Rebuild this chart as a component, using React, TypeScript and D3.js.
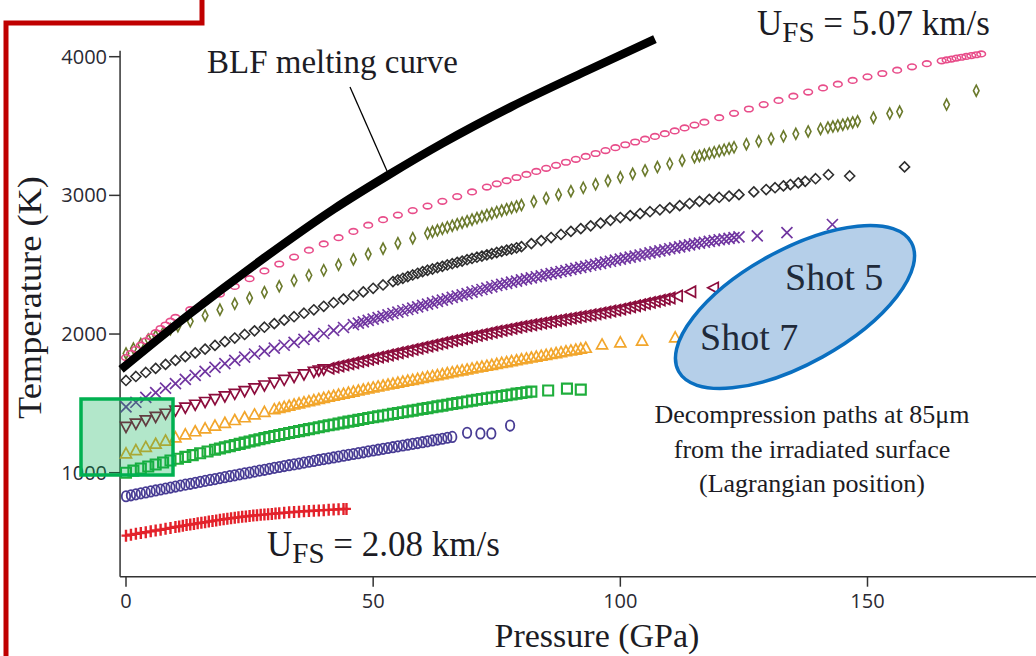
import React from "react";
import * as d3 from "d3";

// ---- data (Pressure GPa, Temperature K) ----
const meltingCurve: [number, number][] = [
  [-1, 1745], [13, 2148], [28, 2550], [42, 2900], [53, 3145], [64, 3375], [78, 3640], [93, 3895], [107, 4127],
];

const pinkSeries: [number, number][] = [
  [0,1830],[1,1860],[2,1890],[3,1920],[4,1950],[5,1980],[6,2010],[7,2040],[8,2065],[9,2093],[10,2120],
  [13,2176],[16,2232],[19,2288],[22,2343],[25,2399],[28,2455],[31,2505],[34,2555],[37,2605],[40,2650],[43,2695],[46,2740],[49,2785],[52,2825],[55,2858],[58,2890],[61,2923],[64,2957],[67,2991],[70,3025],[73,3060],
  [75,3083],[77,3106],[79,3129],[81,3151],[83,3173],[85,3195],[87,3217],[89,3239],[91,3260],[93,3281],[95,3302],[97,3323],[99,3344],[101,3365],[103,3385],[105,3405],[107,3425],[109,3445],[111,3465],[113,3486],[115,3507],[117,3528],
  [120,3560],[123,3592],[126,3623],[129,3655],[132,3685],[135,3715],[138,3745],[141,3775],[144,3802],[147,3829],[150,3855],[153,3879],[156,3903],[159,3927],[162,3950],[165,3970],
  [166,3977],[167,3983],[168,3990],[169,3996],[170,4002],[171,4008],[172,4014],[173,4020],
];

const oliveSeries: [number, number][] = [
  [0,1860],[1.5,1895],[3,1928],[4.5,1960],[6,1986],[7.5,2010],[9,2035],[10.5,2057],
  [13,2092],[16,2134],[19,2176],[22,2218],[25,2260],[28,2302],[31,2344],[34,2386],[37,2424],[40,2460],[43,2499],[46,2538],[49,2577],[52,2616],[55,2655],[58,2691],[61,2726],
  [62,2737],[63,2748],[64,2759],[65,2770],[66,2781],[67,2792],[68,2803],[69,2814],[70,2825],[71,2836],[72,2847],[73,2858],[74,2869],[75,2880],[76,2890],[77,2900],[78,2910],[79,2920],[80,2930],
  [82.5,2955],[85,2980],[87.5,3005],[90,3030],[92.5,3055],[95,3080],[97.5,3105],[100,3130],[102.5,3155],[105,3180],[107.5,3204],[110,3228],[112.5,3252],[115,3275],
  [116,3284],[117,3293],[118,3302],[119,3311],[120,3320],[121,3329],[122,3338],[123,3347],
  [125.5,3369],[128,3390],[130.5,3409],[133,3426],[135.5,3444],[138,3461],[140.5,3479],
  [142,3489],[143,3496],[144,3503],[145,3510],[146,3518],[147,3526],[148,3534],
  [151.2,3560],[154.5,3590],[156.5,3604],[166,3655],[172,3755],
];

const blackSeries: [number, number][] = [
  [0,1665],[2,1694],[4,1723],[6,1752],[8,1781],[10,1810],[12,1837],[14,1864],[16,1891],[18,1918],[20,1945],[22,1971],[24,1997],[26,2023],[28,2049],[30,2075],[32,2100],[34,2125],[36,2150],[38,2175],[40,2200],[42,2226],[44,2252],[46,2278],[48,2304],[50,2330],[52,2354],[54,2378],
  [55,2390],[56,2402],[57,2414],[58,2426],[59,2438],[60,2450],[61,2460],[62,2469],[63,2479],[64,2488],[65,2498],[66,2507],[67,2517],[68,2526],[69,2536],[70,2545],[71,2554],[72,2562],[73,2571],[74,2579],[75,2588],[76,2596],[77,2605],[78,2613],[79,2622],[80,2630],
  [82,2652],[84,2674],[86,2696],[88,2718],[90,2740],[92,2760],[94,2780],[96,2800],[98,2820],[100,2840],[102,2854],[104,2868],[106,2882],[108,2896],[110,2910],[112,2926],[114,2941],[116,2957],[118,2971],[120,2985],[122,2995],[124,3005],
  [127,3025],[129.5,3042],[131.3,3055],[133,3068],[134.4,3078],[136,3090],[137.4,3101],[139.5,3120],[142.1,3149],[146.4,3140],[157.5,3205],
];

const purpleSeries: [number, number][] = [
  [0,1474],[2,1508],[4,1543],[6,1577],[8,1610],[10,1643],[12,1673],[14,1702],[16,1731],[18,1759],[20,1787],[22,1810],[24,1833],[26,1856],[28,1877],[30,1898],[32,1919],[34,1940],[36,1961],[38,1983],[40,2004],[42,2026],[44,2047],[46,2068],
  [47,2078],[48,2088],[49,2098],[50,2108],[51,2118],[52,2128],[53,2138],[54,2148],[55,2158],[56,2168],[57,2177],[58,2187],[59,2196],[60,2206],[61,2216],[62,2225],[63,2235],[64,2244],[65,2254],[66,2264],[67,2273],[68,2283],[69,2292],[70,2302],[71,2312],[72,2321],[73,2331],[74,2340],[75,2350],[76,2358],[77,2366],[78,2374],[79,2382],[80,2390],[81,2398],[82,2405],[83,2413],[84,2420],[85,2428],[86,2436],[87,2443],[88,2451],[89,2458],[90,2466],[91,2473],[92,2481],[93,2488],[94,2496],[95,2503],[96,2510],[97,2518],[98,2525],[99,2533],[100,2540],[101,2547],[102,2555],[103,2562],[104,2570],[105,2577],[106,2585],[107,2592],[108,2600],[109,2607],[110,2615],[111,2622],[112,2629],[113,2636],[114,2643],[115,2650],[116,2656],[117,2662],[118,2668],[119,2674],[120,2680],[121,2685],[122,2690],[123,2695],[124,2700],
  [127.7,2708],[133.7,2731],[142.9,2790],
];

const maroonSeries: [number, number][] = [
  [0,1330],[2,1354],[4,1378],[6,1402],[8,1425],[10,1448],[12,1469],[14,1490],[16,1510],[18,1530],[20,1550],[22,1569],[24,1588],[26,1608],[28,1629],[30,1650],[32,1670],[34,1690],[36,1709],[38,1727],
  [39,1737],[40,1745],[41,1753],[42,1761],[43,1769],[44,1777],[45,1785],[46,1793],[47,1801],[48,1809],[49,1817],[50,1825],[51,1833],[52,1841],[53,1849],[54,1857],[55,1865],[56,1873],[57,1881],[58,1889],[59,1897],[60,1905],[61,1913],[62,1921],[63,1929],[64,1937],[65,1945],[66,1953],[67,1960],[68,1968],[69,1975],[70,1983],[71,1990],[72,1998],[73,2005],[74,2013],[75,2020],[76,2027],[77,2034],[78,2041],[79,2048],[80,2055],[81,2061],[82,2067],[83,2073],[84,2079],[85,2085],[86,2091],[87,2097],[88,2103],[89,2109],[90,2115],[91,2121],[92,2127],[93,2133],[94,2139],[95,2145],[96,2152],[97,2159],[98,2166],[99,2173],[100,2180],[101,2188],[102,2196],[103,2204],[104,2212],[105,2220],[106,2228],[107,2236],[108,2244],[109,2252],[110,2260],
  [111.5,2275],[114.2,2305],[118.8,2333],[124.3,2383],
];

const orangeSeries: [number, number][] = [
  [0,1140],[2,1163],[4,1186],[6,1209],[8,1232],[10,1255],[12,1277],[14,1299],[16,1320],[18,1340],[20,1360],[22,1380],[24,1400],[26,1420],[28,1439],[30,1458],
  [31,1467],[32,1475],[33,1483],[34,1492],[35,1500],[36,1508],[37,1516],[38,1524],[39,1532],[40,1540],[41,1548],[42,1555],[43,1563],[44,1570],[45,1578],[46,1585],[47,1593],[48,1600],[49,1608],[50,1615],[51,1622],[52,1629],[53,1636],[54,1643],[55,1650],[56,1657],[57,1664],[58,1670],[59,1677],[60,1684],[61,1691],[62,1698],[63,1704],[64,1711],[65,1718],[66,1725],[67,1732],[68,1738],[69,1745],[70,1752],[71,1759],[72,1765],[73,1772],[74,1778],[75,1785],[76,1792],[77,1798],[78,1805],[79,1811],[80,1818],[81,1824],[82,1831],[83,1837],[84,1844],[85,1850],[86,1856],[87,1863],[88,1869],[89,1876],[90,1882],[91,1888],[92,1895],[93,1901],
  [96.3,1925],[100,1940],[104.4,1953],[111.1,1976],
];

const greenSeries: [number, number][] = [
  [0,1000],[1.5,1015],[3,1030],[4.5,1045],[6,1059],[7.5,1074],[9,1088],[10.5,1101],[12,1114],[13.5,1127],[15,1140],[16.5,1153],
  [18,1166],[19,1174],[20,1183],[21,1191],[22,1200],[23,1208],[24,1217],[25,1225],[26,1233],[27,1241],[28,1249],[29,1257],[30,1265],[31,1272],[32,1279],[33,1286],[34,1293],[35,1300],[36,1307],[37,1314],[38,1321],[39,1328],[40,1335],[41,1342],[42,1348],[43,1355],[44,1361],[45,1368],[46,1374],[47,1381],[48,1387],[49,1394],[50,1400],[51,1406],[52,1412],[53,1418],[54,1424],[55,1430],[56,1436],[57,1442],[58,1448],[59,1454],[60,1460],[61,1466],[62,1472],[63,1478],[64,1484],[65,1490],[66,1496],[67,1502],[68,1508],[69,1514],[70,1520],[71,1526],[72,1531],[73,1537],[74,1542],[75,1548],[76,1553],[77,1559],[78,1564],[79,1570],[80,1575],[81,1580],[82,1585],
  [85.4,1593],[89.2,1606],[92,1599],
];

const indigoSeries: [number, number][] = [
  [0,830],[1,837],[2,844],[3,851],[4,858],[5,865],[6,872],[7,879],[8,886],[9,893],[10,900],[11,907],[12,914],[13,920],[14,927],[15,934],[16,941],[17,948],[18,954],[19,961],[20,968],[21,975],[22,981],[23,988],[24,995],[25,1001],[26,1008],[27,1015],[28,1021],[29,1028],[30,1035],[31,1041],[32,1048],[33,1054],[34,1060],[35,1066],[36,1073],[37,1079],[38,1085],[39,1092],[40,1098],[41,1104],[42,1110],[43,1116],[44,1123],[45,1129],[46,1135],[47,1141],[48,1147],[49,1154],[50,1160],[51,1166],[52,1172],[53,1178],[54,1184],[55,1190],[56,1196],[57,1202],[58,1208],[59,1214],[60,1220],[61,1226],[62,1233],[63,1239],[64,1245],[65,1252],[66,1258],
  [69,1288],[71.7,1283],[73.9,1283],[77.7,1340],
];

const redSeries: [number, number][] = [
  [0,546],[1,552],[2,559],[3,565],[4,571],[5,577],[6,583],[7,589],[8,595],[9,602],[10,608],
  [10.75,612],[11.5,617],[12.25,622],[13,626],[13.75,630],[14.5,635],[15.25,639],[16,643],[16.75,648],[17.5,652],[18.25,656],[19,660],[19.75,664],[20.5,668],[21.25,671],[22,675],[22.75,678],[23.5,682],[24.25,685],[25,688],[25.75,691],[26.5,693],[27.25,696],[28,698],[28.75,701],[29.5,703],[30.25,706],
  [31,708],[32,711],[33,714],[34,717],[35,719],[36,722],[37,724],[38,726],[39,728],[40,730],[41,732],[42,734],[43,736],[44,738],[44.6,739],
];

const xTicks = [0, 50, 100, 150];
const yTicks = [1000, 2000, 3000, 4000];

type Kind = "oval" | "thinDiamond" | "diamond" | "cross" | "triDown" | "triLeft" | "triUp" | "square" | "circle" | "plus";

const seriesList: { data: [number, number][]; color: string; kind: (p: number) => Kind }[] = [
  { data: redSeries, color: "#e3222b", kind: () => "plus" },
  { data: indigoSeries, color: "#483c94", kind: () => "circle" },
  { data: greenSeries, color: "#1fae3c", kind: () => "square" },
  { data: orangeSeries, color: "#f2a62c", kind: () => "triUp" },
  { data: maroonSeries, color: "#8c0c3c", kind: (p) => (p <= 40 ? "triDown" : "triLeft") },
  { data: purpleSeries, color: "#7035a0", kind: () => "cross" },
  { data: blackSeries, color: "#2e2e2e", kind: () => "diamond" },
  { data: oliveSeries, color: "#6b7a2c", kind: () => "thinDiamond" },
  { data: pinkSeries, color: "#e84d8a", kind: () => "oval" },
];

const markerPath: Record<Kind, string> = {
  oval: "",
  circle: "",
  thinDiamond: "M0,-5.5L2.8,0L0,5.5L-2.8,0Z",
  diamond: "M0,-5L5,0L0,5L-5,0Z",
  cross: "M-5.5,-5.5L5.5,5.5M-5.5,5.5L5.5,-5.5",
  triDown: "M-5.5,-4.5L5.5,-4.5L0,5.5Z",
  triLeft: "M-5.5,0L5,-5.5L5,5.5Z",
  triUp: "M0,-5.5L5.5,4.5L-5.5,4.5Z",
  square: "M-5,-5H5V5H-5Z",
  plus: "M0,-6V6M-4.5,0H4.5",
};

const strokeFor: Record<Kind, number> = {
  oval: 1.6, circle: 1.8, thinDiamond: 1.6, diamond: 1.6, cross: 1.7,
  triDown: 1.7, triLeft: 1.7, triUp: 1.7, square: 2.1, plus: 2.4,
};

const serif = "'Liberation Serif', 'Times New Roman', serif";
const sans = "'Open Sans', 'Liberation Sans', sans-serif";
const textColor = "#1c1c24";

export default function App() {
  const x = d3.scaleLinear().domain([0, 150]).range([126, 867.5]);
  const y = d3.scaleLinear().domain([1000, 4000]).range([472.7, 56.7]);

  const melt = d3
    .line<[number, number]>()
    .x((d) => x(d[0]))
    .y((d) => y(d[1]))
    .curve(d3.curveMonotoneX)(meltingCurve) || "";

  const axisColor = "#333";
  const xAxisY = y(250);
  const yAxisX = x(-1.2);

  return (
    <svg
      width={1036}
      height={656}
      style={{ position: "absolute", left: 0, top: 0, background: "#fff" }}
      xmlns="http://www.w3.org/2000/svg"
    >
      <rect x={0} y={0} width={1036} height={656} fill="#fff" />

      {/* axes */}
      <line x1={yAxisX} x2={yAxisX} y1={y(4043)} y2={xAxisY} stroke={axisColor} strokeWidth={1.5} />
      <line x1={yAxisX} x2={x(185)} y1={xAxisY} y2={xAxisY} stroke={axisColor} strokeWidth={1.5} />
      {yTicks.map((t) => (
        <g key={"yt" + t}>
          <line x1={yAxisX - 11} x2={yAxisX} y1={y(t)} y2={y(t)} stroke={axisColor} strokeWidth={1.5} />
          <text x={yAxisX - 13} y={y(t)} dy="0.35em" textAnchor="end" fontFamily={sans} fontSize={20} fill="#2a2a33">
            {t}
          </text>
        </g>
      ))}
      {xTicks.map((t) => (
        <g key={"xt" + t}>
          <line x1={x(t)} x2={x(t)} y1={xAxisY} y2={xAxisY + 10} stroke={axisColor} strokeWidth={1.5} />
          <text x={x(t)} y={608} textAnchor="middle" fontFamily={sans} fontSize={20} fill="#2a2a33">
            {t}
          </text>
        </g>
      ))}

      {/* series markers */}
      {seriesList.map((s, si) => (
        <g key={"s" + si} fill="none" stroke={s.color}>
          {s.data.map((d, i) => {
            const k = s.kind(d[0]);
            const cx = x(d[0]);
            const cy = y(d[1]);
            if (k === "oval") return <ellipse key={i} cx={cx} cy={cy} rx={4.3} ry={2.8} strokeWidth={strokeFor[k]} />;
            if (k === "circle") return <ellipse key={i} cx={cx} cy={cy} rx={4.2} ry={5.2} strokeWidth={strokeFor[k]} />;
            return (
              <path key={i} d={markerPath[k]} transform={`translate(${cx},${cy})`} strokeWidth={strokeFor[k]} />
            );
          })}
        </g>
      ))}

      {/* BLF melting curve */}
      <path d={melt} fill="none" stroke="#000" strokeWidth={8.5} />
      <line x1={350} y1={87} x2={387} y2={171} stroke="#000" strokeWidth={1.3} />
      <text x={207} y={73} fontFamily={serif} fontSize={33} fill={textColor} textLength={251} lengthAdjust="spacingAndGlyphs">
        BLF melting curve
      </text>

      {/* U_FS labels */}
      <text x={757} y={35} fontFamily={serif} fontSize={35} fill={textColor}>
        U<tspan fontSize={29} dy={7}>FS</tspan>
        <tspan dy={-7}> = 5.07 km/s</tspan>
      </text>
      <text x={267} y={556} fontFamily={serif} fontSize={35} fill={textColor}>
        U<tspan fontSize={29} dy={7}>FS</tspan>
        <tspan dy={-7}> = 2.08 km/s</tspan>
      </text>

      {/* highlighted box */}
      <rect x={81} y={399} width={92} height={76} fill="#00b050" fillOpacity={0.3} stroke="#00b050" strokeWidth={3.5} />

      {/* shots ellipse */}
      <ellipse cx={795} cy={307} rx={133} ry={57} transform="rotate(-29 795 307)" fill="#b5cfe9" stroke="#0a6fc0" strokeWidth={3.5} />
      <text x={785} y={290} fontFamily={serif} fontSize={38} fill="#1f2a3a">Shot 5</text>
      <text x={700} y={350} fontFamily={serif} fontSize={38} fill="#1f2a3a">Shot 7</text>

      {/* annotation */}
      <g fontFamily={serif} fontSize={26} fill={textColor} textAnchor="middle">
        <text x={812} y={423}>Decompression paths at 85μm</text>
        <text x={812} y={458}>from the irradiated surface</text>
        <text x={812} y={492}>(Lagrangian position)</text>
      </g>

      {/* axis titles */}
      <text transform="translate(41,297.5) rotate(-90)" textAnchor="middle" fontFamily={serif} fontSize={34} fill={textColor} textLength={243} lengthAdjust="spacingAndGlyphs">
        Temperature (K)
      </text>
      <text x={597} y={647} textAnchor="middle" fontFamily={serif} fontSize={34} fill={textColor}>
        Pressure (GPa)
      </text>

      {/* red frame */}
      <path d="M6,656V23H202V0" fill="none" stroke="#c00000" strokeWidth={5} />
    </svg>
  );
}
